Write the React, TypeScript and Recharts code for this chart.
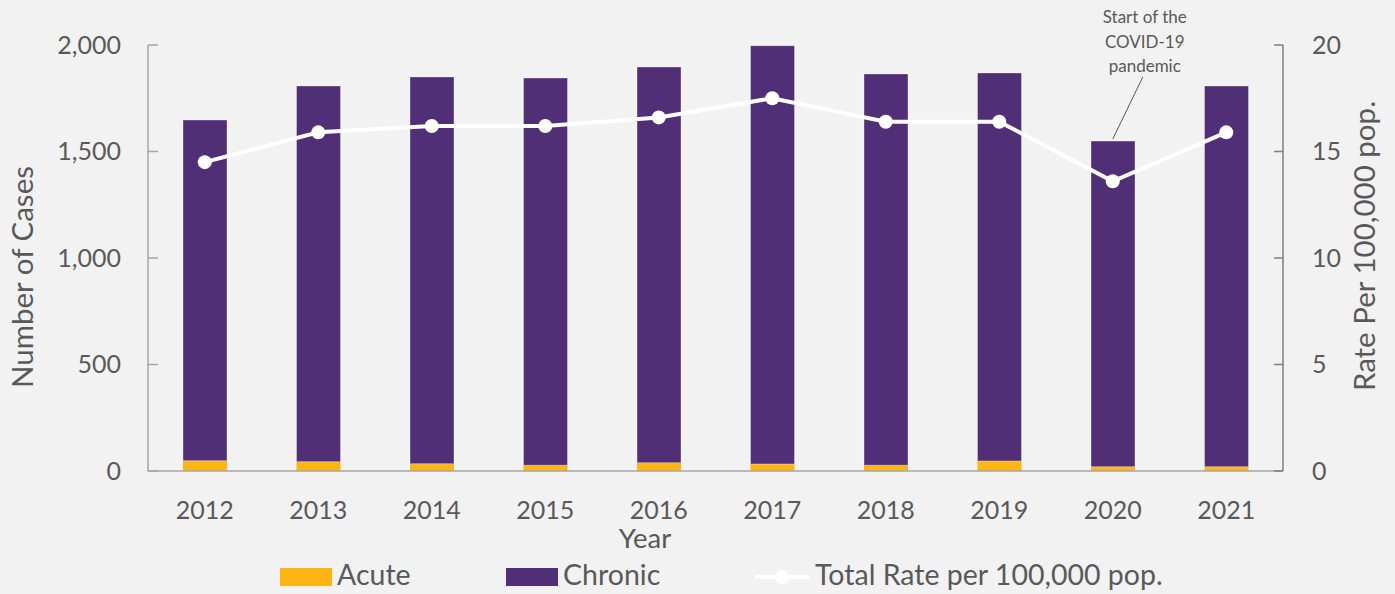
import React from "react";
import {
  ComposedChart,
  Bar,
  Line,
  XAxis,
  YAxis,
  ReferenceDot,
  Label,
} from "recharts";

const years = ["2012", "2013", "2014", "2015", "2016", "2017", "2018", "2019", "2020", "2021"];
const acuteCases = [48, 44, 34, 27, 39, 33, 27, 47, 20, 20];
const chronicCases = [1600, 1764, 1816, 1818, 1858, 1964, 1837, 1822, 1529, 1788];
const totalRate = [14.5, 15.9, 16.2, 16.2, 16.6, 17.5, 16.4, 16.4, 13.6, 15.9];
const caseTicks = [0, 500, 1000, 1500, 2000];
const rateTicks = [0, 5, 10, 15, 20];
const noteLines = ["Start of the", "COVID-19", "pandemic"];

const ACUTE = "#FDB515";
const CHRONIC = "#512F76";
const TEXT = "#595959";
const FONT = "Lato, 'Open Sans', sans-serif";

const data = years.map((year, i) => ({
  year,
  acute: acuteCases[i],
  chronic: chronicCases[i],
  rate: totalRate[i],
}));

// leader line + note text, anchored on top of the 2020 bar
const PandemicNote = (props: any) => {
  const { cx, cy } = props;
  if (cx == null || cy == null) return null;
  return (
    <g>
      <line x1={cx} y1={cy - 2} x2={cx + 30} y2={cy - 64} stroke={TEXT} strokeWidth={1} />
      {noteLines.map((t, i) => (
        <text
          key={t}
          x={cx + 32}
          y={cy - 118 + i * 24.5}
          textAnchor="middle"
          fontSize={17}
          fill={TEXT}
          fontFamily={FONT}
        >
          {t}
        </text>
      ))}
    </g>
  );
};

const tickStyle = { fontSize: 25, fill: TEXT, fontFamily: FONT };

export default function App() {
  return (
    <div
      style={{
        position: "absolute",
        left: 0,
        top: 0,
        width: 1395,
        height: 594,
        background: "#f2f2f2",
        fontFamily: FONT,
      }}
    >
      <ComposedChart
        width={1395}
        height={594}
        data={data}
        margin={{ top: 45, right: 0, left: 0, bottom: 0 }}
      >
        <XAxis
          dataKey="year"
          height={123}
          axisLine={{ stroke: "#a6a6a6", strokeWidth: 1.5 }}
          tickLine={false}
          tickSize={0}
          tickMargin={30}
          tick={tickStyle}
          interval={0}
        >
          <Label
            content={() => (
              <text
                x={645}
                y={548}
                textAnchor="middle"
                fontSize={27.5}
                fill={TEXT}
                fontFamily={FONT}
              >
                Year
              </text>
            )}
          />
        </XAxis>
        <YAxis
          yAxisId="left"
          orientation="left"
          width={148}
          domain={[0, 2000]}
          ticks={caseTicks}
          tickFormatter={(v: number) => v.toLocaleString("en-US")}
          axisLine={{ stroke: "#a6a6a6", strokeWidth: 1.5 }}
          tickLine={{ stroke: "#a6a6a6", strokeWidth: 1.5 }}
          tickSize={-10}
          tickMargin={37}
          tick={tickStyle}
        >
          <Label
            content={() => (
              <text
                x={33}
                y={277}
                transform="rotate(-90 33 277)"
                textAnchor="middle"
                fontSize={29.5}
                fill={TEXT}
                fontFamily={FONT}
              >
                Number of Cases
              </text>
            )}
          />
        </YAxis>
        <YAxis
          yAxisId="right"
          orientation="right"
          width={112}
          domain={[0, 20]}
          ticks={rateTicks}
          axisLine={{ stroke: "#7f7f7f", strokeWidth: 1.5 }}
          tickLine={{ stroke: "#7f7f7f", strokeWidth: 1.5 }}
          tickSize={-9}
          tickMargin={38}
          tick={tickStyle}
        >
          <Label
            content={() => (
              <text
                x={1375}
                y={246}
                transform="rotate(-90 1375 246)"
                textAnchor="middle"
                fontSize={29.5}
                fill={TEXT}
                fontFamily={FONT}
              >
                Rate Per 100,000 pop.
              </text>
            )}
          />
        </YAxis>
        <Bar
          yAxisId="left"
          dataKey="acute"
          stackId="cases"
          fill={ACUTE}
          barSize={44}
          isAnimationActive={false}
        />
        <Bar
          yAxisId="left"
          dataKey="chronic"
          stackId="cases"
          fill={CHRONIC}
          stroke="#ffffff"
          strokeOpacity={0.35}
          strokeWidth={1}
          barSize={44}
          isAnimationActive={false}
        />
        <Line
          yAxisId="right"
          type="linear"
          dataKey="rate"
          stroke="#ffffff"
          strokeWidth={4}
          dot={{ r: 7, fill: "#ffffff", stroke: "none" }}
          isAnimationActive={false}
        />
        <ReferenceDot
          yAxisId="left"
          x="2020"
          y={acuteCases[8] + chronicCases[8]}
          shape={PandemicNote}
        />
      </ComposedChart>

      {/* Legend */}
      <div
        style={{
          position: "absolute",
          top: 558,
          left: 0,
          width: 1395,
          height: 36,
          fontSize: 28.5,
          color: TEXT,
          fontFamily: FONT,
        }}
      >
        <div style={{ position: "absolute", left: 280, top: 10, width: 52, height: 18, background: ACUTE }} />
        <span style={{ position: "absolute", left: 337, top: -2, lineHeight: "36px" }}>Acute</span>
        <div style={{ position: "absolute", left: 506, top: 10, width: 52, height: 18, background: CHRONIC }} />
        <span style={{ position: "absolute", left: 563, top: -2, lineHeight: "36px" }}>Chronic</span>
        <div style={{ position: "absolute", left: 755, top: 17, width: 55, height: 4, background: "#ffffff" }} />
        <div
          style={{
            position: "absolute",
            left: 775,
            top: 12,
            width: 14,
            height: 14,
            borderRadius: 7,
            background: "#ffffff",
          }}
        />
        <span style={{ position: "absolute", left: 815, top: -2, lineHeight: "36px" }}>
          Total Rate per 100,000 pop.
        </span>
      </div>
    </div>
  );
}
